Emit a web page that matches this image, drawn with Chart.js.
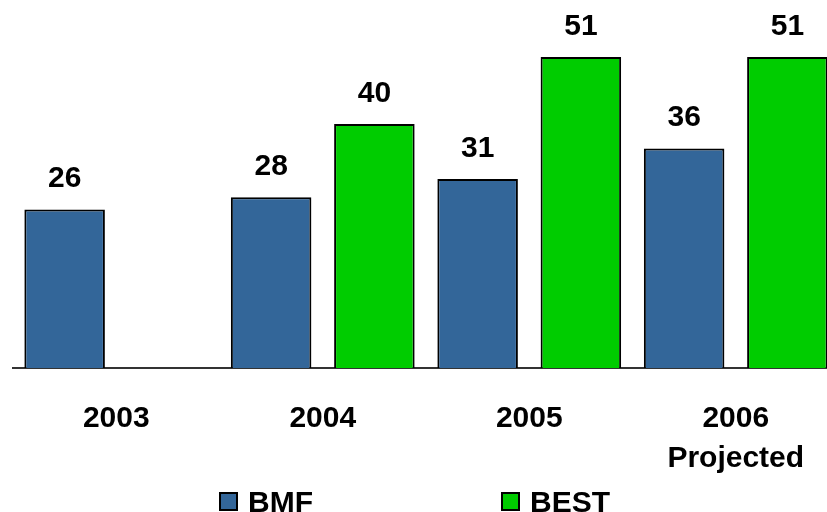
<!DOCTYPE html>
<html>
<head>
<meta charset="utf-8">
<script src="https://cdn.jsdelivr.net/npm/chart.js@4"></script>
<style>
  html, body { margin: 0; padding: 0; background: #fff; overflow: hidden; }
  #wrap { position: absolute; left: 0; top: 0; width: 840px; height: 512px; }
</style>
</head>
<body>
<div id="wrap"><canvas id="myChart"></canvas></div>
<script>
// years on the x axis, last one is a projection
const categories = [["2003"], ["2004"], ["2005"], ["2006", "Projected"]];
const bmfValues = [26, 28, 31, 36];
const bestValues = [null, 40, 51, 51];

const FONT = "'Liberation Sans', Arial, sans-serif";

// numbers over the bars
const valueLabels = {
    id: 'valueLabels',
    afterDatasetsDraw(chart) {
        const ctx = chart.ctx;
        ctx.save();
        ctx.font = 'bold 30px ' + FONT;
        ctx.fillStyle = '#000';
        ctx.textAlign = 'center';
        ctx.textBaseline = 'alphabetic';
        chart.data.datasets.forEach((ds, i) => {
            chart.getDatasetMeta(i).data.forEach((bar, j) => {
                const v = ds.data[j];
                if (v === null || v === undefined) return;
                ctx.fillText(String(v), bar.x, bar.y - 22);
            });
        });
        ctx.restore();
    }
};

// wide-spaced legend along the bottom
const bottomLegend = {
    id: 'bottomLegend',
    afterDraw(chart) {
        const ctx = chart.ctx;
        const startX = 220, pitch = 282, boxY = 493, box = 17;
        ctx.save();
        ctx.font = 'bold 30px ' + FONT;
        ctx.textBaseline = 'alphabetic';
        ctx.textAlign = 'left';
        chart.data.datasets.forEach((ds, i) => {
            const x = startX + i * pitch;
            ctx.fillStyle = ds.backgroundColor;
            ctx.fillRect(x, boxY, box, box);
            ctx.lineWidth = 2;
            ctx.strokeStyle = '#000';
            ctx.strokeRect(x, boxY, box, box);
            ctx.fillStyle = '#000';
            ctx.fillText(ds.label, x + 28, 512);
        });
        ctx.restore();
    }
};

let data = {
    labels: categories,
    datasets: [
        {
            label: 'BMF',
            data: bmfValues,
            backgroundColor: '#336699',
            borderColor: '#000',
            borderWidth: 2,
            borderSkipped: 'bottom'
        },
        {
            label: 'BEST',
            data: bestValues,
            backgroundColor: '#00CC00',
            borderColor: '#000',
            borderWidth: 2,
            borderSkipped: 'bottom'
        }
    ]
};

let options = {
    responsive: true,
    maintainAspectRatio: false,
    animation: false,
    layout: { padding: { left: 13, right: 1, top: 2, bottom: 0 } },
    datasets: { bar: { categoryPercentage: 1.0, barPercentage: 0.78 } },
    plugins: {
        legend: { display: false },
        tooltip: { enabled: false }
    },
    scales: {
        x: {
            grid: { display: false, drawTicks: false },
            border: { display: true, color: '#333', width: 2 },
            ticks: {
                color: '#000',
                padding: 30,
                maxRotation: 0,
                autoSkip: false,
                font: { family: FONT, size: 30, weight: 'bold', lineHeight: 1.35 }
            },
            afterFit(scale) { scale.height = 144; }
        },
        y: {
            display: false,
            min: 0,
            max: 60
        }
    }
};

let ctx = document.getElementById('myChart').getContext('2d');
let myBarChart = new Chart(ctx, {
    type: 'bar',
    data: data,
    options: options,
    plugins: [valueLabels, bottomLegend]
});
</script>
</body>
</html>
